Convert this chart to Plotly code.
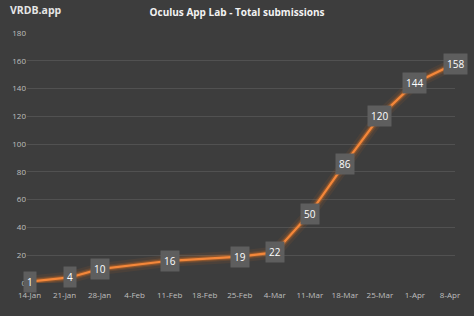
import plotly.graph_objects as go

dates = ["2021-01-14", "2021-01-22", "2021-01-28", "2021-02-11", "2021-02-25",
         "2021-03-04", "2021-03-11", "2021-03-18", "2021-03-25", "2021-04-01", "2021-04-09"]
values = [1, 4, 10, 16, 19, 22, 50, 86, 120, 144, 158]
tick_dates = ["2021-01-14", "2021-01-21", "2021-01-28", "2021-02-04", "2021-02-11",
              "2021-02-18", "2021-02-25", "2021-03-04", "2021-03-11", "2021-03-18",
              "2021-03-25", "2021-04-01", "2021-04-08"]
tick_labels = ["14-Jan", "21-Jan", "28-Jan", "4-Feb", "11-Feb", "18-Feb", "25-Feb",
               "4-Mar", "11-Mar", "18-Mar", "25-Mar", "1-Apr", "8-Apr"]
y_ticks = [0, 20, 40, 60, 80, 100, 120, 140, 160, 180]

BG = "#3d3d3d"
fig = go.Figure()
for w, op in [(12, 0.07), (7, 0.13), (4.5, 0.28)]:
    fig.add_trace(go.Scatter(x=dates, y=values, mode="lines",
                             line=dict(color="#ff7a1a", width=w), opacity=op,
                             hoverinfo="skip", showlegend=False))
fig.add_trace(go.Scatter(x=dates, y=values, mode="lines",
                         line=dict(color="#f4873a", width=2.2), showlegend=False))

for d, v in zip(dates, values):
    fig.add_annotation(x=d, y=v, text=str(v), showarrow=False,
                       bgcolor="#5e5e5e", borderpad=3,
                       font=dict(color="#ffffff", size=10, family="Open Sans"))

fig.update_layout(
    width=474, height=316,
    paper_bgcolor=BG, plot_bgcolor=BG,
    margin=dict(l=25, r=19, t=33, b=33),
    title=dict(text="<b>Oculus App Lab - Total submissions</b>", x=0.5, xanchor="center",
               y=0.96, yanchor="middle",
               font=dict(color="#f2f2f2", size=10, family="Open Sans")),
    xaxis=dict(type="date", range=["2021-01-13 12:00", "2021-04-09"],
               tickvals=tick_dates, ticktext=tick_labels, showgrid=False,
               zeroline=False, showline=False, ticks="outside", ticklen=4, tickcolor=BG,
               tickfont=dict(color="#bfbfbf", size=8, family="Open Sans")),
    yaxis=dict(range=[0, 180], tickvals=y_ticks, showgrid=True, gridcolor="#515151",
               gridwidth=1, zeroline=False, showline=False, ticks="",
               tickfont=dict(color="#bfbfbf", size=8, family="Open Sans")),
    font=dict(family="Open Sans"),
)
fig.add_annotation(text="<b>VRDB.app</b>", xref="paper", yref="paper", x=-0.045, y=1.0,
                   xanchor="left", yanchor="bottom", yshift=14, showarrow=False,
                   font=dict(color="#e6e6e6", size=10.5, family="Open Sans"))

fig.write_html("out.html")
